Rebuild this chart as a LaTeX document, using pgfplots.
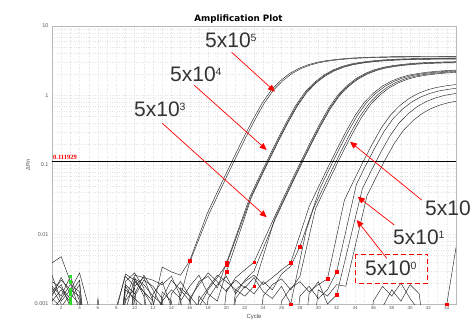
\documentclass[border=0pt]{standalone}
\usepackage{fontspec}
\setmainfont{Liberation Sans}
\newfontfamily\titlefont{DejaVu Sans}
\newfontfamily\thrfont{Liberation Serif}
\usepackage{pgfplots}
\pgfplotsset{compat=1.18}
\usetikzlibrary{arrows.meta}
\newcommand\ann[2]{#1\raisebox{6pt}{\fontsize{10.5}{10.5}\selectfont #2}}
\begin{document}
\begin{tikzpicture}[x=1pt,y=1pt]
\begin{axis}[
  at={(52pt,-304pt)}, anchor=south west,
  scale only axis, width=404pt, height=278pt,
  ymode=log, xmin=1, xmax=45, ymin=0.001, ymax=10,
  xtick={2,4,...,44}, minor x tick num=1,
  ytick={0.001,0.01,0.1,1,10}, yticklabels={0.001,0.01,0.1,1,10},
  grid=both,
  major grid style={gray!22, dotted, line width=0.45pt},
  minor grid style={gray!22, dotted, line width=0.45pt},
  axis line style={gray!55},
  tick style={draw=none},
  xticklabel style={font=\fontsize{4.5}{4.5}\selectfont, text=black!65, yshift=1pt},
  yticklabel style={font=\fontsize{5.5}{5.5}\selectfont, text=black!65},
  /pgf/number format/assume math mode=true,
]
% 5x10^5
\addplot[black!85, line width=0.45pt] coordinates {(1,0.0018) (2,0.0013) (3,0.0025) (4,0.0011) (5,0.0001) (6,0.0001) (7,0.0001) (8,0.0008) (9,0.0027) (10,0.0022) (11,0.0015) (12,0.0009) (13,0.0034) (14,0.0029) (15,0.0026) (16,0.0042) (17.9,0.02002) (18.9,0.03818) (19.9,0.07245) (20.9,0.1362) (21.9,0.2524) (22.9,0.4544) (23.9,0.7818) (24.9,1.2045) (25.9,1.6425) (26.9,2.0805) (27.9,2.464) (28.9,2.774) (29.9,3.011) (30.9,3.176) (31.9,3.303) (32.9,3.402) (33.9,3.475) (34.9,3.526) (35.9,3.566) (37.9,3.614) (39.9,3.635) (45,3.65)};
\addplot[black!85, line width=0.45pt] coordinates {(1,0.0039) (2,0.0048) (3,0.0021) (4,0.0008) (5,0.0001) (8,0.0001) (9,0.0012) (10,0.0026) (11,0.0024) (12,0.0022) (13,0.0019) (14,0.0025) (15,0.0013) (16,0.0040) (18.1,0.01975) (19.1,0.03766) (20.1,0.07146) (21.1,0.1343) (22.1,0.2489) (23.1,0.4482) (24.1,0.7711) (25.1,1.188) (26.1,1.62) (27.1,2.052) (28.1,2.43) (29.1,2.736) (30.1,2.97) (31.1,3.132) (32.1,3.258) (33.1,3.355) (34.1,3.427) (35.1,3.478) (36.1,3.517) (38.1,3.564) (40.1,3.586) (45,3.6)};
% 5x10^4
\addplot[black!85, line width=0.45pt] coordinates {(1,0.0015) (2,0.0022) (3,0.0016) (4,0.0028) (5,0.0009) (6,0.0001) (8,0.0001) (9,0.0021) (10,0.0028) (11,0.0017) (12,0.0001) (13,0.0012) (14,0.0022) (15,0.0016) (16,0.0011) (17,0.0021) (18,0.0025) (19,0.0017) (20,0.0039) (22.6,0.03609) (23.6,0.06848) (24.6,0.1287) (25.6,0.2386) (26.6,0.4295) (27.6,0.7390) (28.6,1.1385) (29.6,1.5525) (30.6,1.9665) (31.6,2.329) (32.6,2.622) (33.6,2.846) (34.6,3.002) (35.6,3.122) (36.6,3.215) (37.6,3.284) (38.6,3.333) (39.6,3.371) (41.6,3.416) (43.6,3.436) (45,3.445)};
\addplot[black!85, line width=0.45pt] coordinates {(1,0.0012) (2,0.0009) (3,0.0014) (4,0.0022) (5,0.0001) (6,0.0012) (7,0.0001) (8,0.0009) (9,0.0025) (10,0.0018) (11,0.0024) (12,0.0011) (13,0.0001) (14,0.0014) (15,0.0021) (16,0.0013) (17,0.0009) (18,0.0016) (19,0.0024) (20,0.0037) (22.7,0.03556) (23.7,0.06749) (24.7,0.1269) (25.7,0.2351) (26.7,0.4233) (27.7,0.7283) (28.7,1.122) (29.7,1.53) (30.7,1.938) (31.7,2.295) (32.7,2.584) (33.7,2.805) (34.7,2.958) (35.7,3.077) (36.7,3.169) (37.7,3.237) (38.7,3.284) (39.7,3.322) (41.7,3.366) (43.7,3.386) (45,3.392)};
\addplot[black!85, line width=0.45pt] coordinates {(1,0.0021) (2,0.0017) (3,0.0012) (4,0.0019) (5,0.0001) (8,0.0001) (9,0.0019) (10,0.0014) (11,0.0026) (12,0.0016) (13,0.0009) (14,0.0001) (15,0.0011) (16,0.0018) (17,0.0026) (18,0.0014) (19,0.0011) (20,0.0029) (22.75,0.03504) (23.75,0.0665) (24.75,0.125) (25.75,0.2317) (26.75,0.4171) (27.75,0.7176) (28.75,1.1055) (29.75,1.5075) (30.75,1.9095) (31.75,2.261) (32.75,2.546) (33.75,2.764) (34.75,2.915) (35.75,3.032) (36.75,3.122) (37.75,3.189) (38.75,3.236) (39.75,3.273) (41.75,3.317) (43.75,3.337) (45,3.343)};
% 5x10^3
\addplot[black!85, line width=0.45pt] coordinates {(1,0.0026) (2,0.0011) (3,0.0016) (4,0.0013) (5,0.0001) (8,0.0001) (9,0.0008) (10,0.0023) (11,0.0019) (12,0.0013) (13,0.0010) (14,0.0001) (15,0.0001) (16,0.0012) (17,0.0019) (18,0.0028) (19,0.0021) (20,0.0015) (21,0.0024) (22,0.0031) (23,0.0040) (25.15,0.0170) (26.15,0.03243) (27.15,0.06154) (28.15,0.1157) (29.15,0.2144) (30.15,0.3860) (31.15,0.6640) (32.15,1.023) (33.15,1.395) (34.15,1.767) (35.15,2.0925) (36.15,2.356) (37.15,2.5575) (38.15,2.697) (39.15,2.8055) (40.15,2.889) (41.15,2.951) (42.15,2.995) (43.15,3.029) (45,3.068)};
\addplot[black!85, line width=0.45pt] coordinates {(1,0.0011) (2,0.0016) (3,0.00105) (4,0.0001) (8,0.0001) (9,0.0016) (10,0.0012) (11,0.0009) (12,0.0001) (13,0.0011) (14,0.0016) (15,0.0012) (16,0.0001) (17,0.0011) (18,0.0017) (19,0.0026) (20,0.0021) (21,0.0016) (22,0.0013) (23,0.0018) (25.25,0.01673) (26.25,0.0319) (27.25,0.06054) (28.25,0.1138) (29.25,0.2109) (30.25,0.3797) (31.25,0.6533) (32.25,1.0065) (33.25,1.3725) (34.25,1.7385) (35.25,2.059) (36.25,2.318) (37.25,2.516) (38.25,2.6535) (39.25,2.760) (40.25,2.843) (41.25,2.904) (42.25,2.946) (43.25,2.980) (45,3.015)};
\addplot[black!85, line width=0.45pt] coordinates {(1,0.0013) (2,0.0024) (3,0.0014) (4,0.0010) (5,0.0001) (9,0.0001) (10,0.0021) (11,0.0015) (12,0.0011) (13,0.0001) (17,0.0001) (18,0.0012) (19,0.0019) (20,0.0025) (21,0.0014) (22,0.0022) (23,0.0030) (25.3,0.01646) (26.3,0.03138) (27.3,0.05955) (28.3,0.1119) (29.3,0.2075) (30.3,0.3735) (31.3,0.6426) (32.3,0.99) (33.3,1.35) (34.3,1.71) (35.3,2.025) (36.3,2.28) (37.3,2.475) (38.3,2.61) (39.3,2.715) (40.3,2.796) (41.3,2.856) (42.3,2.898) (43.3,2.931) (45,2.96)};
% 5x10^2
\addplot[black!85, line width=0.45pt] coordinates {(1,0.0014) (2,0.0019) (3,0.0009) (4,0.0001) (9,0.0001) (10,0.0024) (11,0.0013) (12,0.0001) (14,0.0001) (15,0.0017) (16,0.0013) (17,0.0001) (20,0.0001) (21,0.0016) (22,0.0021) (23,0.0026) (24,0.0019) (25,0.0024) (26,0.0031) (27,0.0039) (29.0,0.0251) (30.0,0.04764) (31.0,0.08954) (32.0,0.166) (33.0,0.2988) (34.0,0.5141) (35.0,0.792) (36.0,1.08) (37.0,1.368) (38.0,1.62) (39.0,1.824) (40.0,1.98) (41.0,2.088) (42.0,2.172) (43.0,2.237) (44.0,2.285) (45,2.318)};
\addplot[black!85, line width=0.45pt] coordinates {(1,0.0008) (2,0.0012) (3,0.0019) (4,0.0015) (5,0.0001) (8,0.0001) (9,0.0011) (10,0.0017) (11,0.0001) (16,0.0001) (17,0.0013) (18,0.0009) (19,0.0001) (20,0.0001) (21,0.0012) (22,0.0018) (23,0.0014) (24,0.0021) (25,0.0016) (26,0.0027) (27,0.0035) (28,0.0067) (30.2,0.04665) (31.2,0.08768) (32.2,0.1625) (33.2,0.2926) (34.2,0.5034) (35.2,0.7755) (36.2,1.0575) (37.2,1.3395) (38.2,1.586) (39.2,1.786) (40.2,1.939) (41.2,2.0445) (42.2,2.127) (43.2,2.190) (44.2,2.237) (45,2.264)};
\addplot[black!85, line width=0.45pt] coordinates {(1,0.0017) (2,0.0010) (3,0.0001) (9,0.0001) (10,0.0013) (11,0.0022) (12,0.0018) (13,0.0012) (14,0.0001) (19,0.0001) (20,0.0016) (21,0.0022) (22,0.0017) (23,0.0024) (24,0.0015) (25,0.0012) (26,0.0018) (27,0.0010) (28.7,0.0117) (29.5,0.02406) (30.5,0.04566) (31.5,0.08581) (32.5,0.159) (33.5,0.2864) (34.5,0.4927) (35.5,0.759) (36.5,1.035) (37.5,1.311) (38.5,1.5525) (39.5,1.748) (40.5,1.8975) (41.5,2.001) (42.5,2.0815) (43.5,2.1436) (44.5,2.19) (45,2.205)};
\addplot[black!85, line width=0.45pt] coordinates {(1,0.0001) (8,0.0001) (9,0.0018) (10,0.0011) (11,0.0001) (12,0.0014) (13,0.0021) (14,0.0009) (15,0.0001) (23,0.0001) (24,0.0013) (25,0.0019) (26,0.0023) (27,0.0016) (28,0.0025) (29.7,0.02354) (30.7,0.04466) (31.7,0.08395) (32.7,0.1556) (33.7,0.2801) (34.7,0.482) (35.7,0.7425) (36.7,1.0125) (37.7,1.2825) (38.7,1.519) (39.7,1.71) (40.7,1.856) (41.7,1.958) (42.7,2.036) (43.7,2.097) (44.7,2.142) (45,2.151)};
% 5x10^1 and 5x10^0
\addplot[black!85, line width=0.45pt] coordinates {(1,0.0001) (12,0.0001) (13,0.0015) (14,0.0011) (15,0.0001) (25,0.0001) (26,0.0011) (27,0.0017) (28,0.0021) (29,0.0015) (30,0.0019) (31,0.0023) (32.85,0.03136) (33.85,0.05895) (34.85,0.1093) (35.85,0.1967) (36.85,0.3384) (37.85,0.5214) (38.85,0.711) (39.85,0.9006) (40.85,1.0665) (41.85,1.2008) (42.85,1.3035) (43.85,1.3746) (44.85,1.43) (45,1.436)};
\addplot[black!85, line width=0.45pt] coordinates {(1,0.0001) (27,0.0001) (28,0.0013) (29,0.0018) (30,0.0012) (31,0.0016) (32,0.0029) (34.15,0.05261) (35.15,0.0975) (36.15,0.1755) (37.15,0.302) (38.15,0.4653) (39.15,0.6345) (40.15,0.8037) (41.15,0.9518) (42.15,1.0716) (43.15,1.1633) (44.15,1.2267) (45,1.269)};
\addplot[black!85, line width=0.45pt] coordinates {(1,0.0001) (28,0.0001) (29,0.0014) (30,0.0021) (31,0.0010) (32,0.00135) (34.8,0.04552) (35.8,0.08436) (36.8,0.1519) (37.8,0.2613) (38.8,0.4026) (39.8,0.549) (40.8,0.6954) (41.8,0.8235) (42.8,0.9272) (43.8,1.0065) (44.8,1.0614) (45,1.07)};
\addplot[black!85, line width=0.45pt] coordinates {(1,0.0001) (29,0.0001) (30,0.0016) (31,0.0013) (32,0.0019) (33,0.0018) (35.3,0.03597) (36.3,0.06666) (37.3,0.12) (38.3,0.2065) (39.3,0.3181) (40.3,0.4338) (41.3,0.5495) (42.3,0.6507) (43.3,0.7326) (44.3,0.7953) (45,0.826)};
% no-template controls
\addplot[black!85, line width=0.45pt] coordinates {(1,0.0001) (35,0.0001) (36,0.0011) (37,0.0018) (38,0.0013) (39,0.0020) (40,0.0012) (41,0.0008) (42,0.0001) (45,0.0001)};
\addplot[black!85, line width=0.45pt] coordinates {(1,0.0001) (36,0.0001) (37,0.0009) (38,0.0016) (39,0.0011) (40,0.0019) (41,0.0014) (42,0.0001) (43,0.0001) (44,0.0010) (45,0.0065)};
% threshold
\addplot[black, line width=1.5pt] coordinates {(1,0.111929) (45,0.111929)};
% baseline markers
\addplot[only marks, mark=square*, mark size=1.3pt, color=red] coordinates {(16,0.0042) (20,0.0039) (20,0.0037) (20,0.0029) (23,0.0040) (23,0.0018) (27,0.0039) (27,0.0010) (28,0.0067) (31,0.0023) (32,0.0029) (32,0.00135) (44,0.0010)};
\addplot[only marks, mark=square*, mark size=1.3pt, color={rgb,255:red,40;green,220;blue,40}] coordinates {(3,0.0025) (3,0.0021) (3,0.0016) (3,0.0014) (3,0.0012) (3,0.00105)};
\end{axis}
% texts
\node[font=\titlefont\bfseries\fontsize{8.8}{8.8}\selectfont] at (238.5,-19) {Amplification Plot};
\node[font=\fontsize{6}{6}\selectfont, text=black!70] at (254,-317) {Cycle};
\node[rotate=90, font=\fontsize{5.5}{5.5}\selectfont, text=black!70] at (28,-165) {ΔRn};
\node[anchor=base west, inner sep=0pt, text=red, font=\thrfont\bfseries\fontsize{6.5}{6.5}\selectfont] at (53,-159) {0.111929};
% annotations
\begin{scope}[every node/.style={anchor=base west, inner sep=0pt, text=black!80, font=\fontsize{21}{21}\selectfont}]
\node at (205,-47.7) {\ann{5x10}{5}};
\node at (170,-82) {\ann{5x10}{4}};
\node at (134,-117) {\ann{5x10}{3}};
\node at (425,-215) {\ann{5x10}{2}};
\node at (393,-244.3) {\ann{5x10}{1}};
\node at (365,-275.7) {\ann{5x10}{0}};
\end{scope}
\begin{scope}[red, line width=0.7pt, -{Triangle[length=7pt,width=6pt]}]
\draw (231.7,-52.3) -- (275,-91.7);
\draw (194.3,-85.3) -- (266.7,-150);
\draw (162.3,-123.3) -- (266.7,-217.3);
\draw (421.7,-200) -- (350,-141.7);
\draw (394.3,-225) -- (357.7,-196.7);
\draw (386.7,-258.3) -- (356.7,-220);
\end{scope}
\draw[red, line width=1.3pt, dash pattern=on 5pt off 3pt] (355.7,-254.3) rectangle (427.7,-283.3);
\pgfresetboundingbox
\path[use as bounding box] (0,-323) rectangle (470,0);
\end{tikzpicture}
\end{document}
